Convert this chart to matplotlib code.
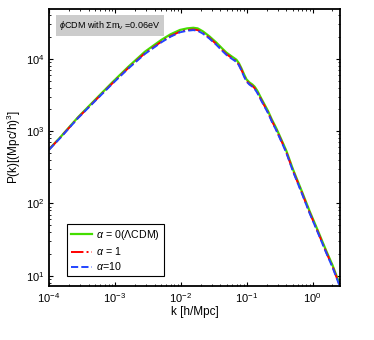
import numpy as np
import matplotlib.pyplot as plt

plt.rcParams['font.family'] = ['Liberation Sans', 'DejaVu Sans']
plt.rcParams['mathtext.fontset'] = 'custom'
plt.rcParams['mathtext.rm'] = 'Liberation Sans'
plt.rcParams['mathtext.it'] = 'Liberation Sans:italic'

# wavenumber k [h/Mpc]
k = [1e-4, 1.5e-4, 2.75e-4, 5e-4, 9e-4, 1.6e-3, 2.85e-3, 5.1e-3, 7e-3, 9.7e-3,
     0.0125, 0.0155, 0.018, 0.0215, 0.027, 0.0347, 0.042, 0.049, 0.058, 0.0697,
     0.076, 0.083, 0.091, 0.099, 0.11, 0.122, 0.132, 0.145, 0.167, 0.19,
     0.21, 0.24, 0.28, 0.35, 0.4, 0.5, 0.7, 0.9, 1.2, 1.61,
     2.0, 2.55]

# P(k) for the three models
p_lcdm = [560, 830, 1550, 2700, 4650, 7750, 12500, 18300, 21800, 25000,
          26300, 26800, 26300, 24000, 20500, 16700, 14000, 12200, 10900, 9700,
          8700, 7400, 6100, 5200, 4700, 4400, 4100, 3600, 2800, 2250,
          1900, 1450, 1100, 700, 530, 300, 140, 78, 42, 22,
          14, 7.8]
p_a1 = [555, 820, 1520, 2630, 4500, 7450, 11900, 17300, 20600, 23700,
        24900, 25400, 24900, 22800, 19500, 15900, 13300, 11600, 10400, 9250,
        8300, 7050, 5800, 4950, 4480, 4200, 3910, 3430, 2670, 2150,
        1815, 1385, 1050, 670, 507, 287, 134, 74.5, 40.2, 21,
        13.4, 7.5]
p_a10 = [550, 812, 1505, 2600, 4440, 7330, 11650, 16950, 20200, 23200,
         24400, 24900, 24400, 22350, 19100, 15550, 13000, 11350, 10150, 9050,
         8130, 6900, 5680, 4850, 4390, 4110, 3830, 3360, 2615, 2105,
         1780, 1356, 1028, 656, 497, 281, 131, 73, 39.4, 20.6,
         13.1, 7.35]

fig = plt.figure(figsize=(3.74, 3.4), dpi=100)
ax = fig.add_axes([0.131, 0.159, 0.778, 0.815])

ax.loglog(k, p_lcdm, color='#44dd00', lw=1.6, label=r'$\alpha$ = 0($\Lambda$CDM)')
ax.loglog(k, p_a1, color='#ff0000', lw=1.4, ls='-.', label=r'$\alpha$ = 1')
ax.loglog(k, p_a10, color='#2244ff', lw=1.4, ls='--', label=r'$\alpha$=10')

ax.set_xlim(1e-4, 2.6)
ax.set_ylim(7.2, 4.9e4)

ax.set_xlabel('k [h/Mpc]', fontsize=8.5, labelpad=1)
ax.set_ylabel(r'P(k)[(Mpc/h)$^3$]', fontsize=8.5, labelpad=2)

ax.tick_params(which='both', direction='in', top=True, right=True, labelsize=8)
ax.tick_params(which='major', length=3, width=0.8)
ax.tick_params(which='minor', length=1.6, width=0.6)
for s in ax.spines.values():
    s.set_linewidth(1.3)

ax.text(0.035, 0.963, r'$\phi$CDM with $\Sigma$m$_\nu$ =0.06eV', transform=ax.transAxes,
        fontsize=6.5, va='top', ha='left',
        bbox=dict(facecolor='#cccccc', edgecolor='none', boxstyle='square,pad=0.4'))

leg = ax.legend(loc='lower left', bbox_to_anchor=(0.062, 0.035), fontsize=7.7,
                frameon=True, fancybox=False, edgecolor='black', framealpha=1,
                handlelength=2.0, borderpad=0.35, labelspacing=0.3, handletextpad=0.4,
                borderaxespad=0)
leg.get_frame().set_linewidth(0.8)

fig.savefig('out.png', dpi=100)
